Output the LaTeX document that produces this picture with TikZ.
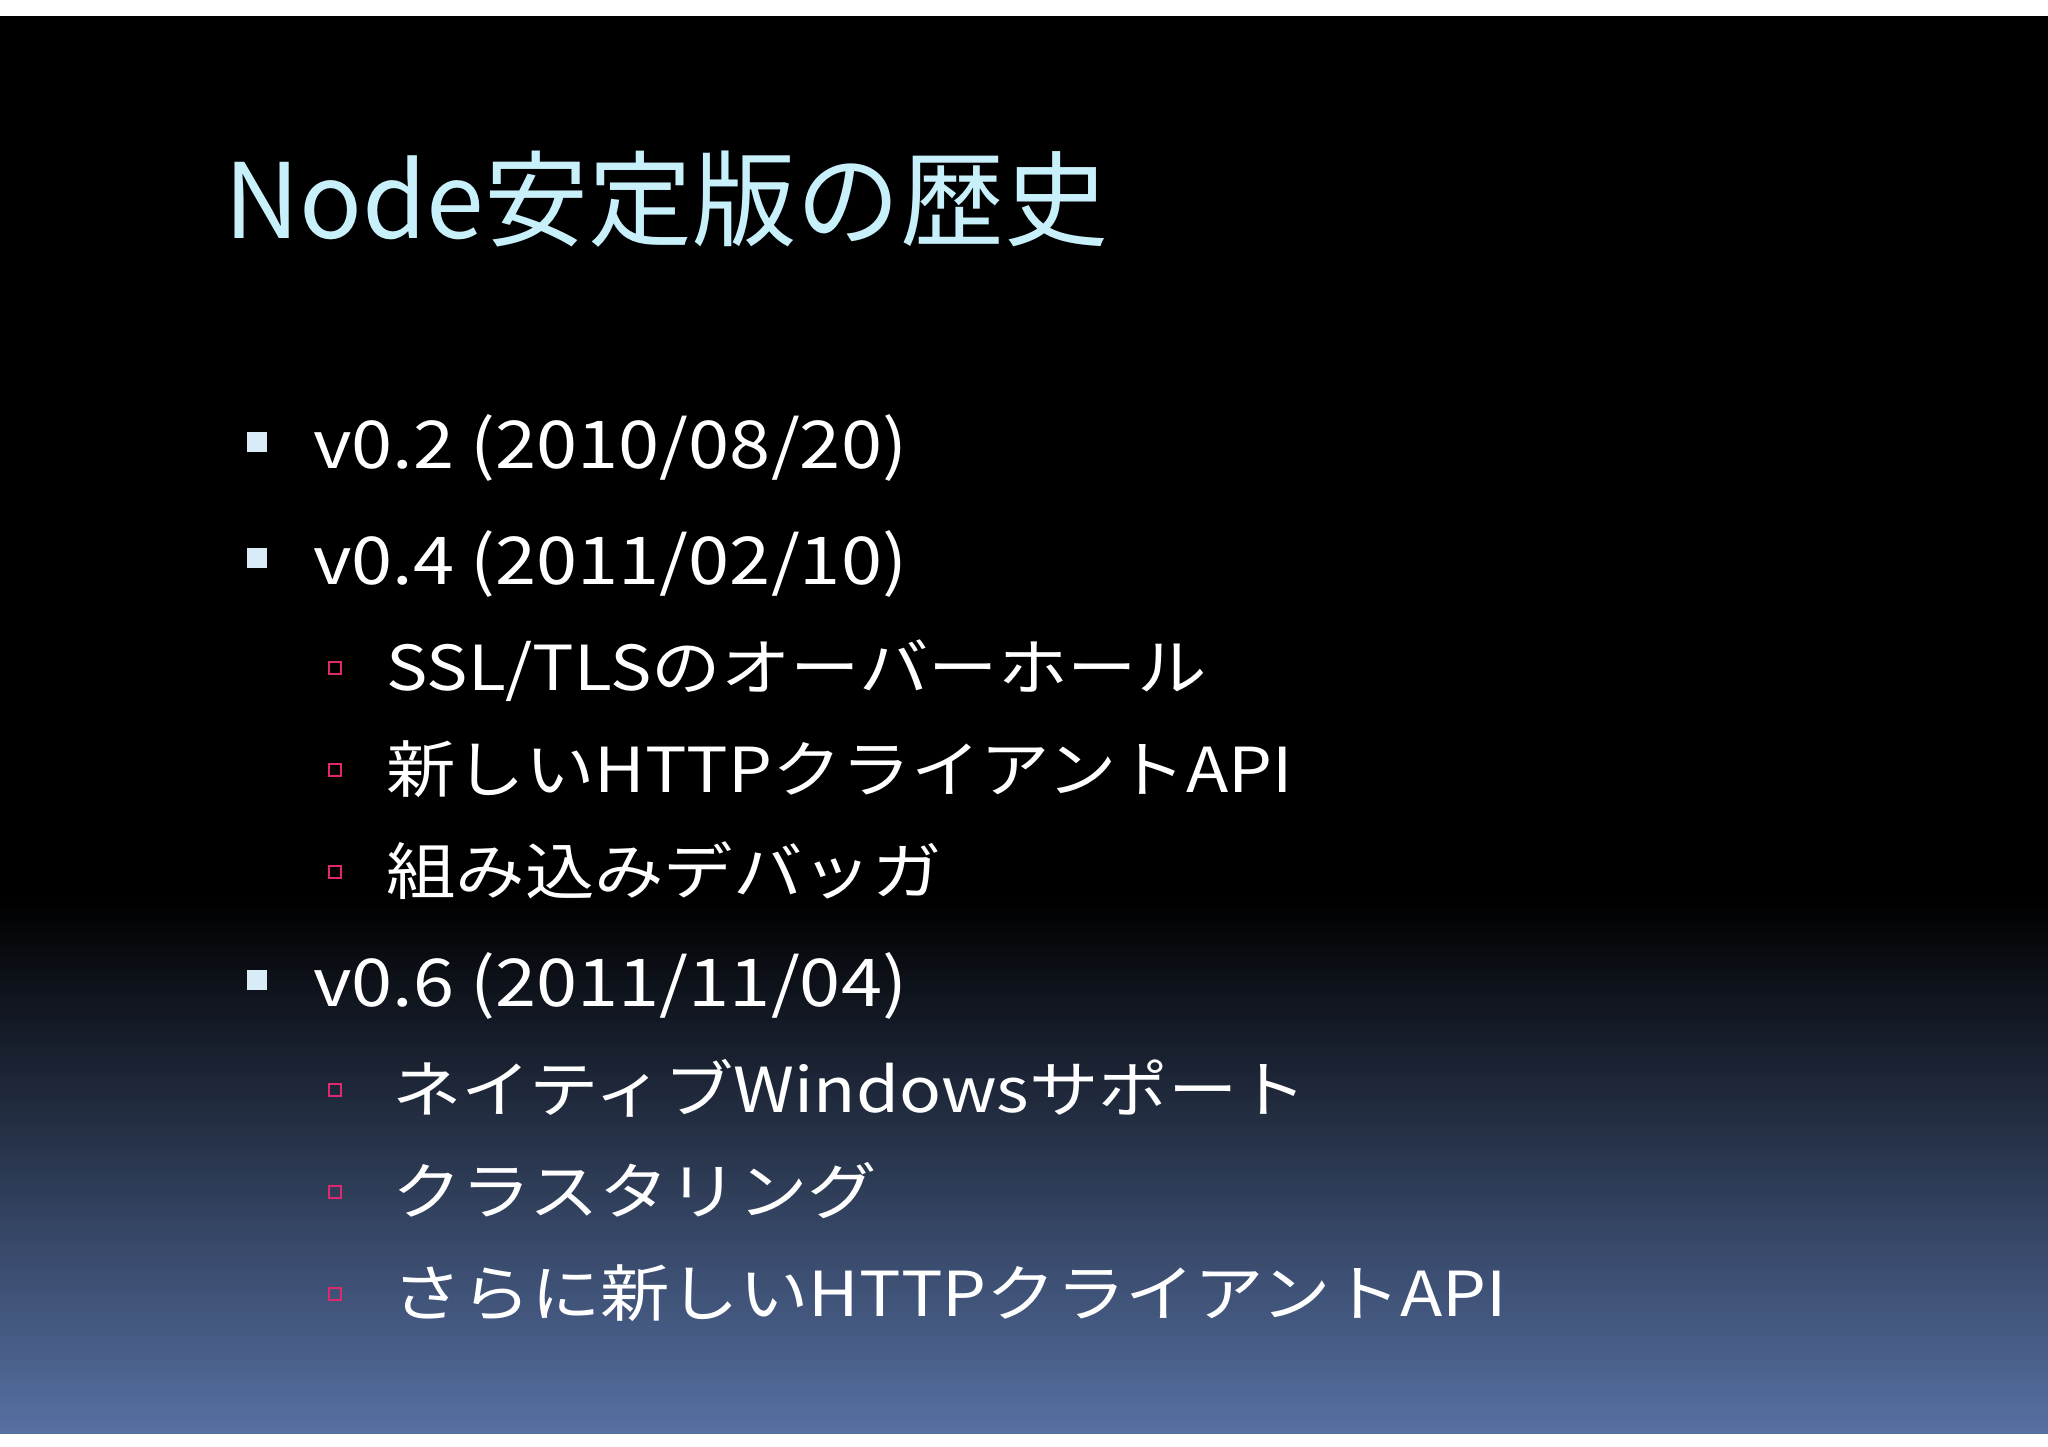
\documentclass[tikz,border=0pt]{standalone}
\usepackage{fontspec}
\setmainfont{Noto Sans CJK JP}
\begin{document}
\begin{tikzpicture}[x=1pt,y=-1pt]
\definecolor{ttl}{HTML}{C8F0FA}
\definecolor{bl}{HTML}{D8ECF8}
\definecolor{pk}{HTML}{E0286E}
\definecolor{bot}{HTML}{5670A2}
\tikzset{l1/.style={anchor=base west,text=white,font=\fontsize{66}{70}\selectfont,inner sep=0,xscale=1.12,transform shape},
l2/.style={anchor=base west,text=white,font=\fontsize{62}{66}\selectfont,inner sep=0,xscale=1.12,transform shape},
b1/.style={fill=bl,minimum size=20pt,inner sep=0},
b2/.style={draw=pk,line width=2.6pt,minimum size=12pt,inner sep=0}}
\useasboundingbox (0,0) rectangle (2048,1447);
\fill[white] (0,0) rectangle (2048,1447);
\fill[black] (0,16) rectangle (2048,900);
\shade[top color=black,bottom color=bot] (0,899) rectangle (2048,1433);
\node[anchor=base west,text=ttl,font=\fontsize{104}{110}\selectfont,inner sep=0] (t) at (224,239) {Node安定版の歴史};
\node[b1] (b1a) at (257,442) {}; \node[l1] (a) at (313,468) {v0.2 (2010/08/20)};
\node[b1] (b1b) at (257,558) {}; \node[l1] (b) at (313,584) {v0.4 (2011/02/10)};
\node[b2] (c1) at (335,668) {}; \node[l2] (c) at (386,690) {SSL/TLSのオーバーホール};
\node[b2] (d1) at (335,770) {}; \node[l2] (d) at (386,792) {新しいHTTPクライアントAPI};
\node[b2] (e1) at (335,872) {}; \node[l2] (e) at (386,894) {組み込みデバッガ};
\node[b1] (b1c) at (257,980) {}; \node[l1] (f) at (313,1006) {v0.6 (2011/11/04)};
\node[b2] (g1) at (335,1090) {}; \node[l2] (g) at (392,1112) {ネイティブWindowsサポート};
\node[b2] (h1) at (335,1192) {}; \node[l2] (h) at (392,1214) {クラスタリング};
\node[b2] (i1) at (335,1294) {}; \node[l2] (i) at (392,1316) {さらに新しいHTTPクライアントAPI};
\end{tikzpicture}
\end{document}
